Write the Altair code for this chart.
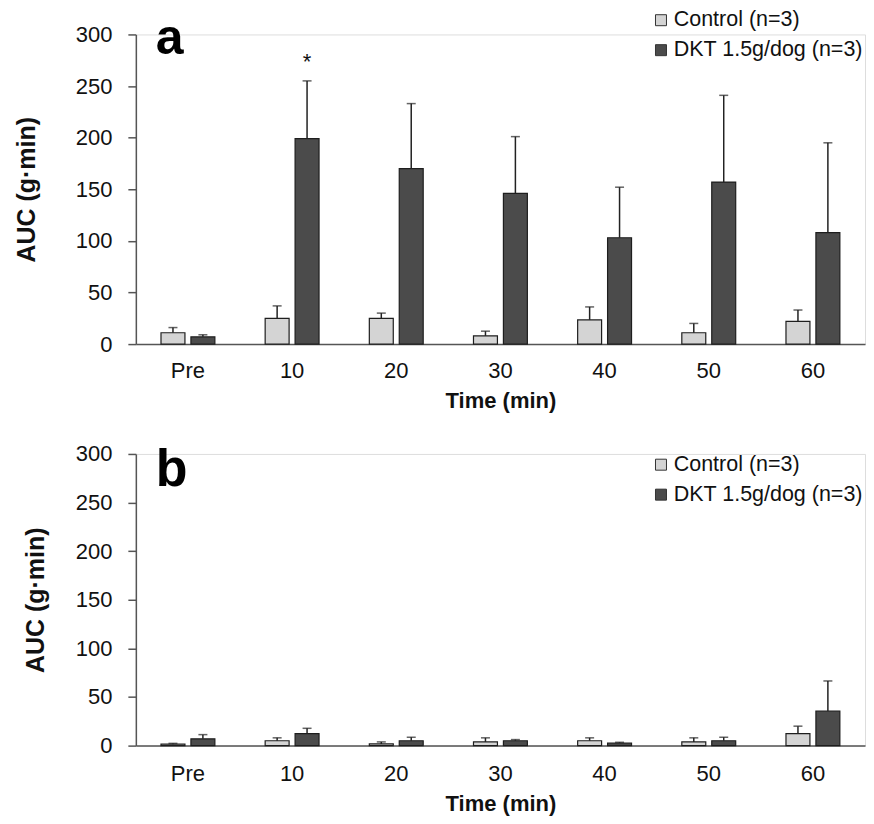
import altair as alt
import pandas as pd

times = ["Pre", "10", "20", "30", "40", "50", "60"]
groups = ["Control (n=3)", "DKT 1.5g/dog (n=3)"]
colors = ["#d4d4d4", "#4b4b4b"]

# Panel a: mean and top of error bar
a_control = [11, 25, 25, 8, 23.5, 11, 22]
a_control_up = [16, 37, 30, 12.5, 36, 20, 33]
a_dkt = [7, 199, 170, 146, 103, 157, 108]
a_dkt_up = [9, 255, 233, 201, 152, 241, 195]
a_sig = ["", "*", "", "", "", "", ""]

# Panel b
b_control = [1.5, 5, 1.7, 3.8, 5, 3.8, 12.3]
b_control_up = [2.3, 8, 3.8, 8, 8, 8, 20]
b_dkt = [7, 12.3, 5, 5, 2.7, 5, 35.6]
b_dkt_up = [11.3, 17.8, 8.6, 6.2, 3.4, 8.6, 66.5]
b_sig = ["", "", "", "", "", "", ""]

y_ticks = [0, 50, 100, 150, 200, 250, 300]
FONT = "Liberation Sans"


def make_df(ctrl, ctrl_up, dkt, dkt_up, sig):
    rows = []
    for i, t in enumerate(times):
        rows.append({"time": t, "group": groups[0], "value": ctrl[i], "upper": ctrl_up[i], "sig": ""})
        rows.append({"time": t, "group": groups[1], "value": dkt[i], "upper": dkt_up[i], "sig": sig[i]})
    return pd.DataFrame(rows)


def panel(df, letter, height, legend_y, title_pad, letter_y, letter_size, xlab_pad, xtitle_pad):
    x = alt.X("time:N", sort=times,
              scale=alt.Scale(domain=times, paddingInner=0, paddingOuter=0),
              axis=alt.Axis(title="Time (min)", labelAngle=0, ticks=False, tickSize=0,
                            labelPadding=xlab_pad, labelFontSize=22, labelFont=FONT,
                            labelColor="#111", titleFont=FONT, titleFontSize=22,
                            titleFontWeight="bold", titleColor="#111", titlePadding=xtitle_pad,
                            domainColor="#555", domainWidth=1.5))
    xo = alt.XOffset("group:N", sort=groups,
                     scale=alt.Scale(domain=groups, paddingInner=0.2, paddingOuter=0.84))
    y_scale = alt.Scale(domain=[0, 300], nice=False)
    base = alt.Chart(df)
    bars = base.mark_bar(stroke="#1e1e1e", strokeWidth=1.2).encode(
        x=x, xOffset=xo,
        y=alt.Y("value:Q", scale=y_scale,
                axis=alt.Axis(title="AUC (g·min)", values=y_ticks, grid=False, tickSize=8,
                              labelPadding=16, labelFontSize=22, labelFont=FONT,
                              labelColor="#111", tickColor="#555", domainColor="#555",
                              domainWidth=1.5, tickWidth=1.5,
                              titleFont=FONT, titleFontSize=25, titleFontWeight="bold",
                              titleColor="#111", titlePadding=title_pad)),
        fill=alt.Fill("group:N", sort=groups,
                      scale=alt.Scale(domain=groups, range=colors),
                      legend=alt.Legend(title=None, orient="none", legendX=515, legendY=legend_y,
                                        symbolType="square", symbolSize=121,
                                        symbolStrokeColor="#333", symbolStrokeWidth=1,
                                        labelFont=FONT, labelFontSize=21.5, labelColor="#111",
                                        labelLimit=0, labelOffset=2, rowPadding=7,
                                        padding=0)),
    )
    err = base.mark_rule(color="#222", strokeWidth=1.5).encode(
        x=x, xOffset=xo, y=alt.Y("value:Q", scale=y_scale), y2="upper:Q")
    cap = base.mark_tick(color="#222", size=9, thickness=1.5).encode(
        x=x, xOffset=xo, y=alt.Y("upper:Q", scale=y_scale))
    star = base.mark_text(fontSize=22, font=FONT, dy=-19, color="#111").encode(
        x=x, xOffset=xo, y=alt.Y("upper:Q", scale=y_scale), text="sig:N")
    lab = alt.Chart(pd.DataFrame({"t": [letter]})).mark_text(
        align="left", baseline="alphabetic", fontSize=letter_size, fontWeight="bold",
        font=FONT, color="#000").encode(x=alt.value(20), y=alt.value(letter_y), text="t:N")
    return alt.layer(bars, err, cap, star, lab).properties(width=730, height=height)


pa = panel(make_df(a_control, a_control_up, a_dkt, a_dkt_up, a_sig), "a", 310, -25, 36, 20, 50, 16, 9)
pb = panel(make_df(b_control, b_control_up, b_dkt, b_dkt_up, b_sig), "b", 292, 0, 27, 32, 52, 18, 9)

chart = alt.vconcat(pa, pb, spacing=30).resolve_scale(
    x="independent", y="independent").resolve_legend(fill="independent").properties(
    padding={"left": 5, "top": 0, "right": 0, "bottom": 0}
).configure_view(stroke=None).configure(background="white")

chart.save("out.html", embed_options={"renderer": "svg", "actions": False})
